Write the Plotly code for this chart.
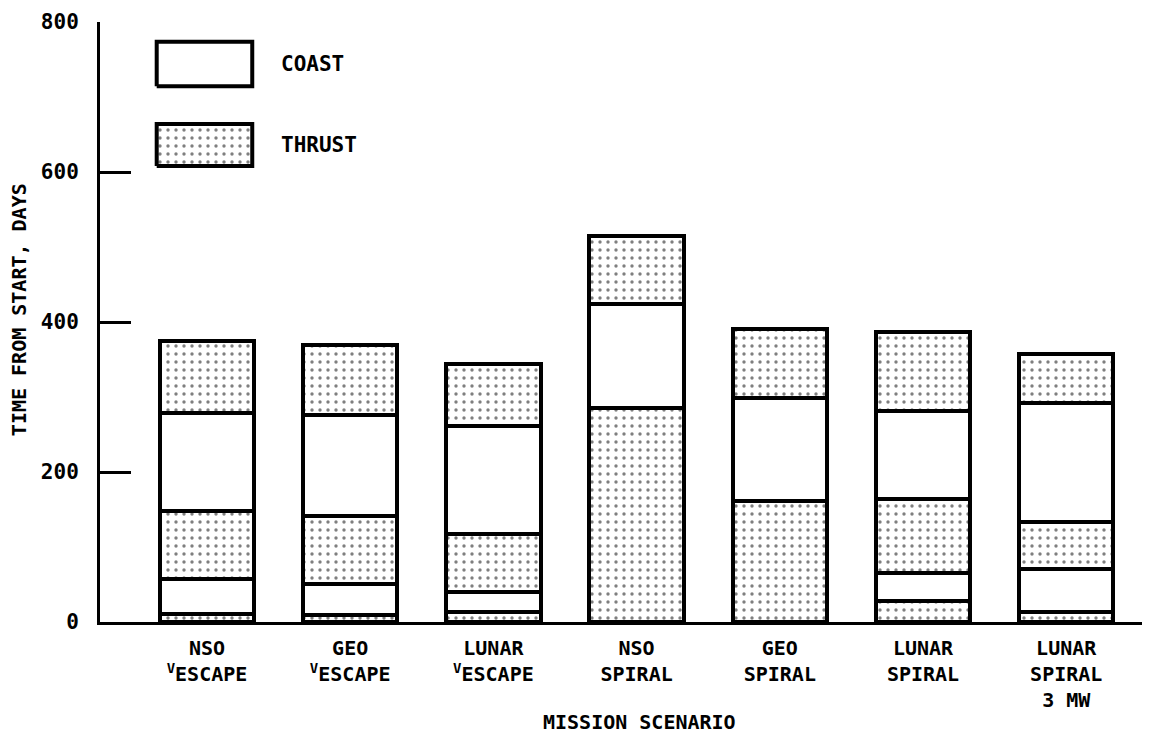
import plotly.graph_objects as go

# Mission scenarios (category labels)
scenarios = [
    "NSO<br><sup>V</sup>ESCAPE",
    "GEO<br><sup>V</sup>ESCAPE",
    "LUNAR<br><sup>V</sup>ESCAPE",
    "NSO<br>SPIRAL",
    "GEO<br>SPIRAL",
    "LUNAR<br>SPIRAL",
    "LUNAR<br>SPIRAL<br>3 MW",
]

# Phase durations (days), stacked bottom to top, alternating thrust / coast
thrust_1 = [11, 9, 14, 286, 161, 28, 14]
coast_1 = [46, 42, 26, 138, 138, 37, 57]
thrust_2 = [91, 90, 77, 91, 92, 99, 63]
coast_2 = [131, 135, 144, None, None, 118, 158]
thrust_3 = [96, 93, 83, None, None, 105, 66]

y_ticks = [0, 200, 400, 600, 800]

FONT = "DejaVu Sans Mono"
xpos = list(range(len(scenarios)))

dot_pattern = dict(shape=".", fgcolor="black", bgcolor="white", size=8, solidity=0.14)

thrust_marker = dict(
    color="white",
    pattern=dict(dot_pattern, fillmode="overlay"),
    line=dict(color="black", width=4),
)
coast_marker = dict(color="white", line=dict(color="black", width=4))

fig = go.Figure()
segments = [
    ("THRUST", thrust_1, thrust_marker),
    ("COAST", coast_1, coast_marker),
    ("THRUST", thrust_2, thrust_marker),
    ("COAST", coast_2, coast_marker),
    ("THRUST", thrust_3, thrust_marker),
]
for name, vals, mk in segments:
    fig.add_trace(go.Bar(x=xpos, y=vals, name=name, marker=mk, width=0.66,
                         showlegend=False, hoverinfo="skip"))

# Legend swatches drawn on an overlay axis (0..1 each way)
legend_items = [
    ("COAST", 0.054, 0.145, 0.893, 0.967, False),
    ("THRUST", 0.054, 0.145, 0.760, 0.830, True),
]
annotations = []
for label, x0, x1, y0, y1, patterned in legend_items:
    kw = dict(
        x=[x0, x1, x1, x0, x0], y=[y0, y0, y1, y1, y0],
        mode="lines", fill="toself", fillcolor="white",
        line=dict(color="black", width=4),
        xaxis="x2", yaxis="y2", showlegend=False, hoverinfo="skip",
    )
    if patterned:
        kw["fillpattern"] = dot_pattern
    fig.add_trace(go.Scatter(**kw))
    annotations.append(dict(x=x1 + 0.025, y=(y0 + y1) / 2, xref="x2", yref="y2",
                            text=label, showarrow=False, xanchor="left", yanchor="middle",
                            font=dict(family=FONT, size=21, color="black", weight="bold")))

annotations += [
    dict(text="MISSION SCENARIO", x=0.514, y=-0.167, xref="paper", yref="paper",
         showarrow=False, xanchor="center", yanchor="middle",
         font=dict(family=FONT, size=20, color="black", weight="bold")),
    dict(text="TIME FROM START, DAYS", x=-0.077, y=0.52, xref="paper", yref="paper",
         showarrow=False, xanchor="center", yanchor="middle", textangle=-90,
         font=dict(family=FONT, size=20, color="black", weight="bold")),
]

fig.update_layout(
    width=1142, height=725,
    margin=dict(l=92, r=0, t=14, b=111),
    paper_bgcolor="white", plot_bgcolor="white",
    barmode="stack",
    showlegend=False,
    xaxis=dict(
        range=[-0.747, 6.585],
        tickvals=xpos, ticktext=scenarios,
        showline=True, linecolor="black", linewidth=3,
        showgrid=False, zeroline=False, ticks="",
        tickfont=dict(family=FONT, size=20, color="black", weight="bold"),
        ticklabelstandoff=6,
    ),
    yaxis=dict(
        range=[0, 800], tickvals=y_ticks,
        showline=True, linecolor="black", linewidth=3,
        showgrid=False, zeroline=False,
        ticks="inside", ticklen=31, tickwidth=2.5, tickcolor="black",
        tickfont=dict(family=FONT, size=21, color="black", weight="bold"),
        ticklabelstandoff=14,
    ),
    xaxis2=dict(overlaying="x", range=[0, 1], visible=False, fixedrange=True),
    yaxis2=dict(overlaying="y", range=[0, 1], visible=False, fixedrange=True),
    annotations=annotations,
)

fig.write_html("out.html", config={"displayModeBar": False})
